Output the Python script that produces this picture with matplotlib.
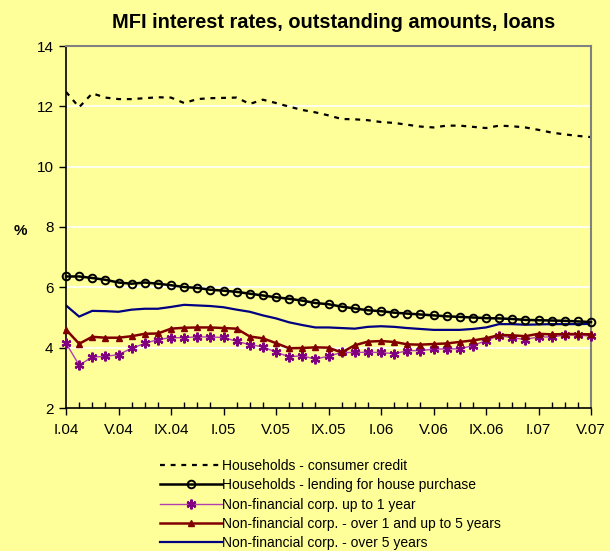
import matplotlib
matplotlib.use("Agg")
import matplotlib.pyplot as plt
import numpy as np

plt.rcParams['font.family'] = ['Liberation Sans', 'DejaVu Sans']

tick_labels = ["I.04", "V.04", "IX.04", "I.05", "V.05", "IX.05", "I.06", "V.06", "IX.06", "I.07", "V.07"]

consumer_credit = [12.48, 11.97, 12.43, 12.29, 12.24, 12.24, 12.27, 12.30, 12.29, 12.11,
                   12.24, 12.27, 12.28, 12.29, 12.08, 12.22, 12.11, 11.99, 11.88, 11.80,
                   11.70, 11.58, 11.57, 11.54, 11.48, 11.45, 11.39, 11.33, 11.30, 11.36,
                   11.36, 11.32, 11.28, 11.36, 11.34, 11.30, 11.22, 11.13, 11.07, 11.02, 10.98]
house_purchase = [6.36, 6.36, 6.31, 6.25, 6.16, 6.12, 6.16, 6.12, 6.07, 6.01,
                  5.98, 5.92, 5.89, 5.85, 5.79, 5.73, 5.67, 5.62, 5.56, 5.48,
                  5.44, 5.36, 5.30, 5.24, 5.21, 5.16, 5.13, 5.10, 5.07, 5.04,
                  5.02, 5.00, 4.98, 4.97, 4.95, 4.92, 4.91, 4.90, 4.89, 4.87, 4.85]
nfc_up_to_1y = [4.15, 3.42, 3.69, 3.71, 3.77, 3.98, 4.14, 4.27, 4.33, 4.33,
                4.36, 4.35, 4.34, 4.21, 4.10, 4.03, 3.85, 3.70, 3.73, 3.62,
                3.72, 3.84, 3.84, 3.85, 3.84, 3.80, 3.90, 3.90, 3.95, 3.96,
                3.96, 4.07, 4.23, 4.40, 4.33, 4.27, 4.36, 4.35, 4.42, 4.42, 4.38]
nfc_1_to_5y = [4.60, 4.13, 4.36, 4.33, 4.33, 4.38, 4.46, 4.47, 4.63, 4.66,
               4.67, 4.67, 4.65, 4.63, 4.37, 4.31, 4.15, 3.98, 3.99, 4.01,
               4.00, 3.84, 4.08, 4.20, 4.22, 4.19, 4.11, 4.10, 4.12, 4.14,
               4.19, 4.24, 4.31, 4.42, 4.41, 4.38, 4.46, 4.44, 4.45, 4.45, 4.44]
nfc_over_5y = [5.40, 5.03, 5.22, 5.21, 5.19, 5.26, 5.29, 5.29, 5.35, 5.42,
               5.40, 5.38, 5.34, 5.26, 5.19, 5.07, 4.97, 4.84, 4.75, 4.67,
               4.67, 4.65, 4.63, 4.69, 4.71, 4.69, 4.65, 4.62, 4.59, 4.59,
               4.59, 4.62, 4.67, 4.78, 4.78, 4.76, 4.77, 4.78, 4.78, 4.78, 4.79]

series_labels = ["Households - consumer credit",
                 "Households - lending for house purchase",
                 "Non-financial corp. up to 1 year",
                 "Non-financial corp. - over 1 and up to 5 years",
                 "Non-financial corp. - over 5 years"]

bg = "#FFFF99"
fig = plt.figure(figsize=(6.10, 5.51), dpi=100, facecolor=bg)
ax = fig.add_axes([66/610, 1-408/551, (591-66)/610, (408-46)/551])
ax.set_facecolor(bg)

x = np.arange(len(house_purchase))

h1, = ax.plot(x, consumer_credit, color="black", lw=1.6, linestyle=(0, (2.2, 2.6)))
h2, = ax.plot(x, house_purchase, color="black", lw=1.8, marker="o", ms=5.5,
              mfc="none", mec="black", mew=1.4, clip_on=False, zorder=4)
h3, = ax.plot(x, nfc_up_to_1y, color="#B040B0", lw=1.0, marker=(6, 2, 0), ms=7,
              mec="#800080", mfc="#800080", mew=1.6, clip_on=False, zorder=3)
h4, = ax.plot(x, nfc_1_to_5y, color="#800000", lw=1.8, marker="^", ms=4.5,
              mec="#800000", mfc="#800000", clip_on=False, zorder=3)
h5, = ax.plot(x, nfc_over_5y, color="#000080", lw=1.6)

ax.set_xlim(0, len(x) - 1)
ax.set_ylim(2, 14)
ax.set_yticks(np.arange(2, 15, 2))
for yv in range(4, 14, 2):
    ax.axhline(yv, color="white", lw=1.2, zorder=0.5)

ax.set_xticks(np.arange(0, len(x), 4))
ax.set_xticklabels(tick_labels)
ax.set_xticks(np.arange(len(x)), minor=True)
ax.tick_params(axis="x", which="major", direction="out", length=5, width=1,
               labelsize=11, pad=6)
ax.tick_params(axis="x", which="minor", direction="in", length=4, width=1)
ax.tick_params(axis="y", direction="out", length=5, width=1, labelsize=11, pad=4)

for s in ["top", "right"]:
    ax.spines[s].set_color("#808080")
    ax.spines[s].set_linewidth(1.5)
for s in ["left", "bottom"]:
    ax.spines[s].set_color("black")
    ax.spines[s].set_linewidth(1.2)

fig.text(333.5/610, 1-22/551, "MFI interest rates, outstanding amounts, loans",
         ha="center", va="center", fontsize=14.4, fontweight="bold")
fig.text(20/610, 1-231/551, "%", ha="center", va="center", fontsize=11, fontweight="bold")

leg = fig.legend([h1, h2, h3, h4, h5], series_labels, loc="upper left",
                 bbox_to_anchor=(160/610, 1-459/551), frameon=False,
                 fontsize=10, handlelength=4.45, handletextpad=0.0,
                 labelspacing=0.38, numpoints=1, borderpad=0, borderaxespad=0)

fig.savefig("out.png", dpi=100, facecolor=bg)
